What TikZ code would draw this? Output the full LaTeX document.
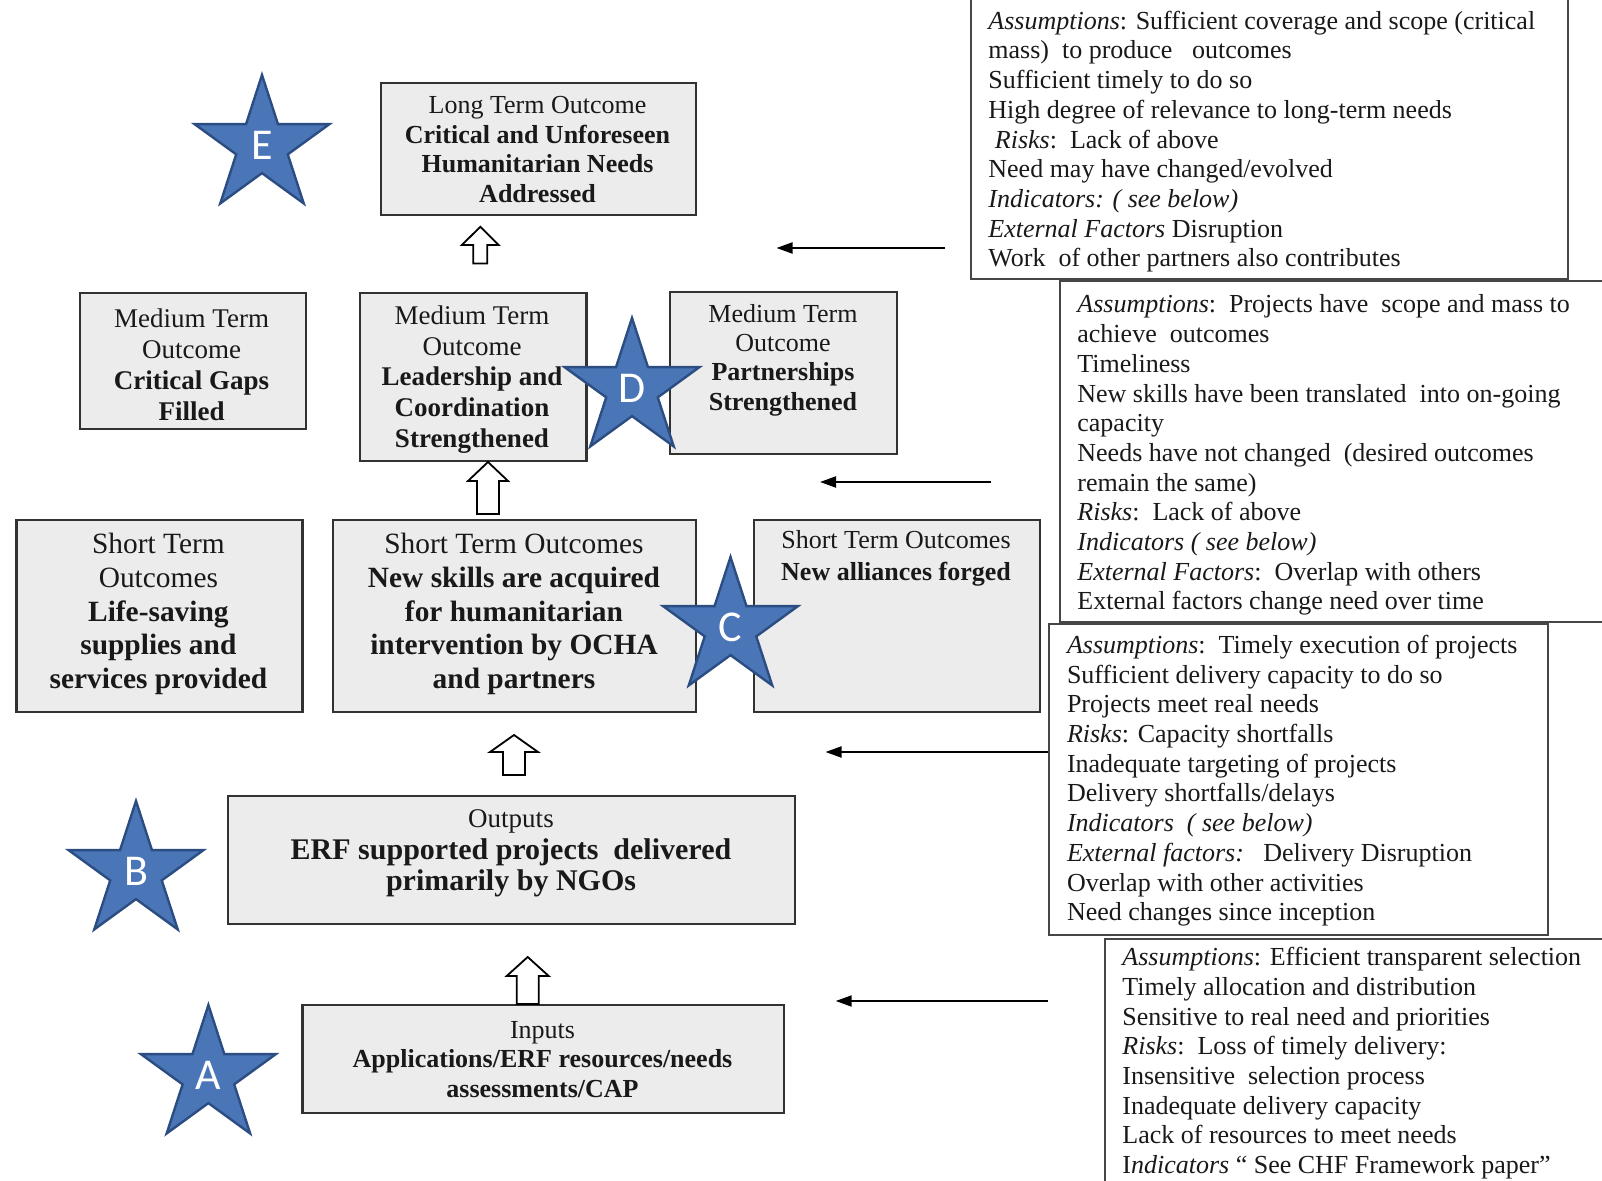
\documentclass[tikz,border=0pt]{standalone}
\usepackage{fontspec}
\setmainfont{Liberation Serif}
\newfontfamily\letterfont{Carlito}
\usetikzlibrary{arrows.meta,calc}

\definecolor{boxfill}{RGB}{236,236,236}
\definecolor{boxline}{RGB}{50,50,50}
\definecolor{notebord}{RGB}{70,70,70}
\definecolor{starfill}{RGB}{74,118,184}
\definecolor{starline}{RGB}{44,77,130}
\definecolor{ink}{RGB}{25,25,25}

% five-pointed star with a letter in it: name, x, y, letter
\newcommand\bluestar[4]{%
  \begin{scope}[shift={(#2,#3)}]
    \draw[starshape] (-90:71) -- (-54:27.1) -- (-18:71) -- (18:27.1) -- (54:71)
      -- (90:27.1) -- (126:71) -- (162:27.1) -- (198:71) -- (234:27.1) -- cycle;
    \node[starletter] (#1) at (0,-1) {#4};
  \end{scope}}

% hollow block arrow pointing up: x, tip, head base, bottom, head half-width, shaft half-width
\newcommand\hollowup[6]{%
  \draw[hollow] (#1,#2) -- (#1+#5,#3) -- (#1+#6,#3) -- (#1+#6,#4)
    -- (#1-#6,#4) -- (#1-#6,#3) -- (#1-#5,#3) -- cycle;}

\tikzset{
  outbox/.style={draw=boxline, fill=boxfill, line width=1.1pt, anchor=north west, inner sep=0pt},
  btext/.style={text=ink, align=center, inner sep=0pt},
  notebox/.style={draw=notebord, line width=1pt, fill=white, anchor=north west, inner sep=0pt},
  ntext/.style={text=ink, align=left, anchor=north west, inner sep=0pt,
    font=\fontsize{13}{14.85}\selectfont},
  feed/.style={draw=black, line width=1pt, -{Triangle[length=8pt,width=5.5pt]}},
  hollow/.style={draw=black, line width=0.9pt, fill=white, line join=miter},
  starshape/.style={fill=starfill, draw=starline, line width=1.2pt, line join=miter},
  starletter/.style={text=white, font=\letterfont\fontsize{22}{22}\selectfont, inner sep=0pt},
}

\begin{document}
\begin{tikzpicture}[x=0.5pt, y=-0.5pt]
\useasboundingbox (0,0) rectangle (1602,1181);
\fill[white] (0,0) rectangle (1602,1181);

% ---------- result chain boxes ----------
\node[outbox, minimum width=157.5pt, minimum height=66pt] (lt) at (380,82) {};
\node[btext, font=\fontsize{13}{14.8}\selectfont] (ltt) at (537.5,149.5)
  {Long Term Outcome\\ \textbf{Critical and Unforeseen}\\ \textbf{Humanitarian Needs}\\ \textbf{Addressed}};

\node[outbox, minimum width=112.9pt, minimum height=68pt] (mt1) at (78.7,292) {};
\node[btext, font=\fontsize{13.5}{15.5}\selectfont] (mt1t) at (191.6,365)
  {Medium Term\\ Outcome\\ \textbf{Critical Gaps}\\ \textbf{Filled}};

\node[outbox, minimum width=113.4pt, minimum height=84pt] (mt2) at (358.6,292) {};
\node[btext, font=\fontsize{13.5}{15.4}\selectfont] (mt2t) at (472,379.5)
  {Medium Term\\ Outcome\\ \textbf{Leadership and}\\ \textbf{Coordination}\\ \textbf{Strengthened}};

\node[outbox, minimum width=113.5pt, minimum height=80.8pt] (mt3) at (669,291) {};
\node[btext, font=\fontsize{13}{14.7}\selectfont] (mt3t) at (783,360)
  {Medium Term\\ Outcome\\ \textbf{Partnerships}\\ \textbf{Strengthened}};

\node[outbox, minimum width=143pt, minimum height=96pt] (st1) at (15.3,519) {};
\node[btext, font=\fontsize{14.7}{16.9}\selectfont] (st1t) at (158.4,614)
  {Short Term\\ Outcomes\\ \textbf{Life-saving}\\ \textbf{supplies and}\\ \textbf{services provided}};

\node[outbox, minimum width=181.4pt, minimum height=96pt] (st2) at (332,519) {};
\node[btext, font=\fontsize{14.7}{16.9}\selectfont] (st2t) at (514,614)
  {Short Term Outcomes\\ \textbf{New skills are acquired}\\ \textbf{for humanitarian}\\ \textbf{intervention by OCHA}\\ \textbf{and partners}};

\node[outbox, minimum width=143pt, minimum height=96pt] (st3) at (753,519) {};
\node[btext, font=\fontsize{13}{15.9}\selectfont] (st3t) at (896,558.3)
  {Short Term Outcomes\\ \textbf{New alliances forged}};

\node[outbox, minimum width=283.6pt, minimum height=63.8pt] (out) at (226.8,795) {};
\node[btext, font=\fontsize{15}{15.8}\selectfont] (outt) at (511,853.3)
  {{\fontsize{13.5}{15.8}\selectfont Outputs}\\ \textbf{ERF supported projects\ \ delivered}\\ \textbf{primarily by NGOs}};

\node[outbox, minimum width=240.6pt, minimum height=53.8pt] (inp) at (301.4,1004) {};
\node[btext, font=\fontsize{13}{14.8}\selectfont] (inpt) at (542.5,1059.6)
  {Inputs\\ \textbf{Applications/ERF resources/needs}\\ \textbf{assessments/CAP}};

% ---------- assumption / risk notes ----------
\node[notebox, minimum width=298.7pt, minimum height=149pt] (r1) at (969.6,-20) {};
\node[ntext] (r1t) at (988,10.5)
  {\textit{Assumptions}: Sufficient coverage and scope (critical\\
   mass)\ \ to produce\ \ \ outcomes\\
   Sufficient timely to do so\\
   High degree of relevance to long-term needs\\
   \ \textit{Risks}:\ \ Lack of above\\
   Need may have changed/evolved\\
   \textit{Indicators: ( see below)}\\
   \textit{External Factors} Disruption\\
   Work\ \ of other partners also contributes};

\node[notebox, minimum width=283.25pt, minimum height=170.5pt] (r2) at (1058.5,280) {};
\node[ntext] (r2t) at (1077,294.5)
  {\textit{Assumptions}:\ \ Projects have\ \ scope and mass to\\
   achieve\ \ outcomes\\
   Timeliness\\
   New skills have been translated\ \ into on-going\\
   capacity\\
   Needs have not changed\ \ (desired outcomes\\
   remain the same)\\
   \textit{Risks}:\ \ Lack of above\\
   \textit{Indicators ( see below)}\\
   \textit{External Factors}:\ \ Overlap with others\\
   External factors change need over time};

\node[notebox, minimum width=249.5pt, minimum height=155.5pt] (r3) at (1048,623) {};
\node[ntext] (r3t) at (1066.6,634.7)
  {\textit{Assumptions}:\ \ Timely execution of projects\\
   Sufficient delivery capacity to do so\\
   Projects meet real needs\\
   \textit{Risks}: Capacity shortfalls\\
   Inadequate targeting of projects\\
   Delivery shortfalls/delays\\
   \textit{Indicators\ \ ( see below)}\\
   \textit{External factors:}\ \ \ Delivery Disruption\\
   Overlap with other activities\\
   Need changes since inception};

\node[notebox, minimum width=263.25pt, minimum height=131pt] (r4) at (1103.5,938) {};
\node[ntext] (r4t) at (1122,947)
  {\textit{Assumptions}: Efficient transparent selection\\
   Timely allocation and distribution\\
   Sensitive to real need and priorities\\
   \textit{Risks}:\ \ Loss of timely delivery:\\
   Insensitive\ \ selection process\\
   Inadequate delivery capacity\\
   Lack of resources to meet needs\\
   I\textit{ndicators} “ See CHF Framework paper”};

% ---------- feeds from the notes into the chain ----------
\coordinate (f1s) at (945,248);   \coordinate (f1e) at (776.5,248);
\coordinate (f2s) at (991,482);   \coordinate (f2e) at (820,482);
\coordinate (f3s) at (1048,752);  \coordinate (f3e) at (825.5,752);
\coordinate (f4s) at (1048,1001); \coordinate (f4e) at (835.7,1001);
\draw[feed] (f1s) -- (f1e);
\draw[feed] (f2s) -- (f2e);
\draw[feed] (f3s) -- (f3e);
\draw[feed] (f4s) -- (f4e);

% ---------- upward block arrows between levels ----------
\hollowup{480.3}{226.8}{245}{263.6}{18.4}{7}
\hollowup{488}{462}{481}{514}{20}{11}
\hollowup{514}{735}{752}{775}{24}{11}
\hollowup{527.7}{957}{976}{1004}{21}{11}

% ---------- level markers ----------
\bluestar{sE}{262}{146}{E}
\bluestar{sD}{632}{389}{D}
\bluestar{sC}{730.5}{628}{C}
\bluestar{sB}{136}{872}{B}
\bluestar{sA}{208.4}{1076}{A}

\end{tikzpicture}
\end{document}
